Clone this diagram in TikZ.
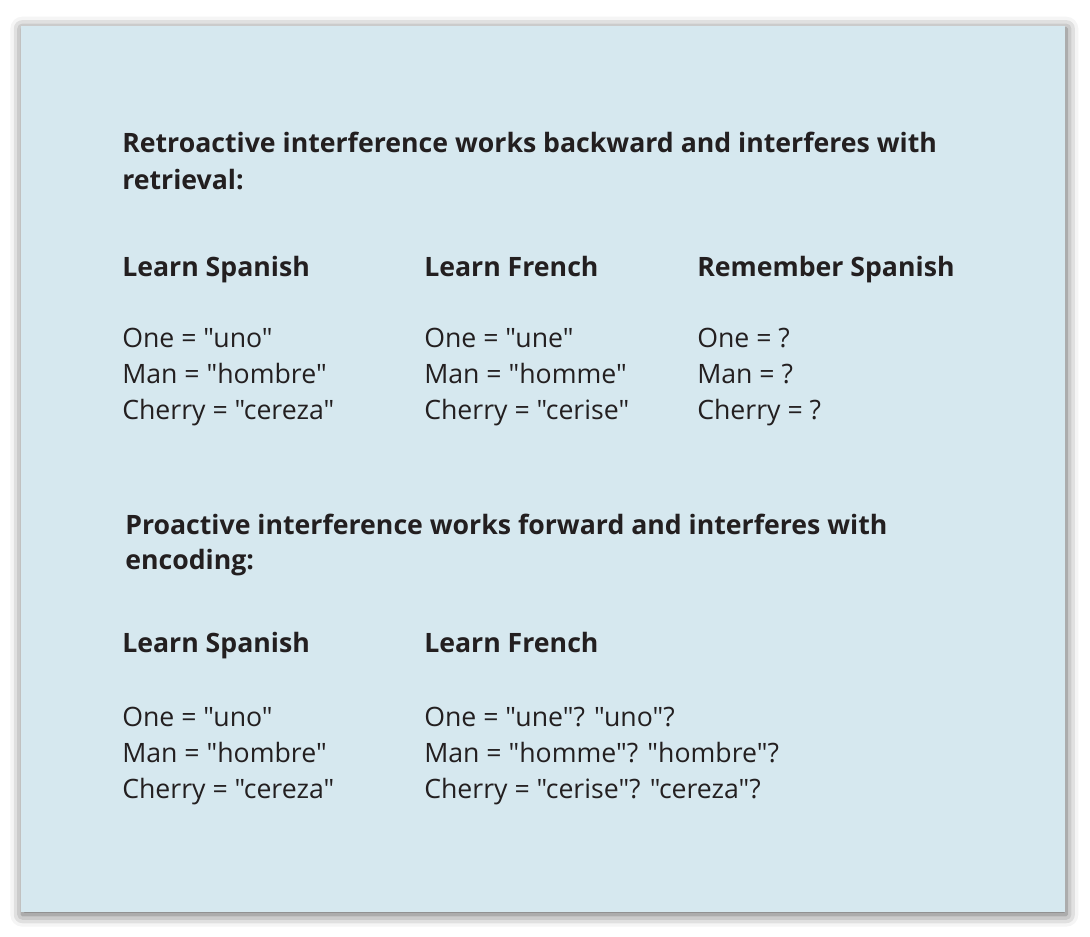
\documentclass[tikz,border=0pt]{standalone}
\usepackage{fontspec}
\setmainfont{Open Sans}[Ligatures=TeXOff]
\usetikzlibrary{shadows.blur}
\definecolor{panel}{HTML}{D6E8EF}
\definecolor{ink}{HTML}{231F20}

\begin{document}
\begin{tikzpicture}[x=0.75pt,y=-0.75pt,
	txt/.style={anchor=base west,inner sep=0pt,text=ink,font=\fontsize{20}{24}\selectfont},
	hd/.style={txt,font=\fontsize{20}{24}\selectfont\bfseries}]
				\useasboundingbox (0,0) rectangle (1090,937);
				\fill[panel,blur shadow={shadow xshift=1pt,shadow yshift=-2pt,shadow blur radius=9pt,shadow opacity=65}] (21,26) rectangle (1065,912);
				% retroactive
				\node[hd] (ra) at (122,153) {Retroactive interference works backward and interferes with};
				\node[hd] (rb) at (122,190) {retrieval:};
				\node[hd] (rs) at (122,277) {Learn Spanish};
				\node[hd] (rf) at (424,277) {Learn French};
				\node[hd] (rr) at (697,277) {Remember Spanish};
				\node[txt] (rs1) at (122,348) {One = "uno"};
				\node[txt] (rs2) at (122,384) {Man = "hombre"};
				\node[txt] (rs3) at (122,420) {Cherry = "cereza"};
				\node[txt] (rf1) at (424,348) {One = "une"};
				\node[txt] (rf2) at (424,384) {Man = "homme"};
				\node[txt] (rf3) at (424,420) {Cherry = "cerise"};
				\node[txt] (rr1) at (697,348) {One = ?};
				\node[txt] (rr2) at (697,384) {Man = ?};
				\node[txt] (rr3) at (697,420) {Cherry = ?};
				% proactive
				\node[hd] (pa) at (125,535) {Proactive interference works forward and interferes with};
				\node[hd] (pb) at (125,570) {encoding:};
				\node[hd] (ps) at (122,653) {Learn Spanish};
				\node[hd] (pf) at (424,653) {Learn French};
				\node[txt] (ps1) at (122,727) {One = "uno"};
				\node[txt] (ps2) at (122,763) {Man = "hombre"};
				\node[txt] (ps3) at (122,799) {Cherry = "cereza"};
				\node[txt] (pf1) at (424,727) {One = "une"? "uno"?};
				\node[txt] (pf2) at (424,763) {Man = "homme"? "hombre"?};
				\node[txt] (pf3) at (424,799) {Cherry = "cerise"? "cereza"?};
			\end{tikzpicture}
\end{document}
